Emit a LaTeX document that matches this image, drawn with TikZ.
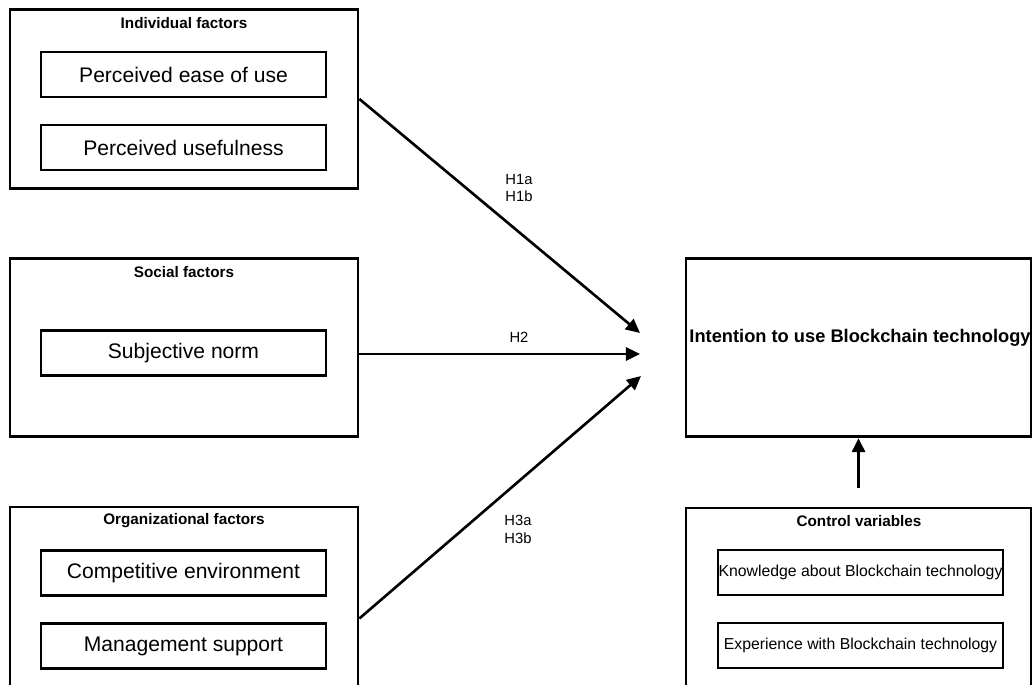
\documentclass[tikz,border=0pt]{standalone}
\usepackage{fontspec}
\setmainfont{Liberation Sans}
\usetikzlibrary{arrows.meta}

\begin{document}
\begin{tikzpicture}[x=0.02cm,y=-0.02cm,
  outerbox/.style={draw,line width=1.6pt,minimum width=6.96cm,minimum height=3.57cm,inner sep=0pt},
  rightbox/.style={outerbox,minimum width=6.9cm},
  innerbox/.style={draw,line width=1.6pt,minimum width=5.7cm,minimum height=0.9cm,inner sep=0pt,font=\fontsize{12}{14}\selectfont},
  smallbox/.style={innerbox,font=\fontsize{9}{11}\selectfont},
  titletext/.style={font=\bfseries\fontsize{8.7}{10}\selectfont,inner sep=0pt},
  hyplabel/.style={font=\fontsize{8.4}{10.2}\selectfont,align=center,inner sep=0pt},
  arr/.style={-{Triangle[length=8pt,width=7.5pt]},line width=1.5pt}]
\clip (0,0) rectangle (1032,685);
% left column
\node[outerbox] (ind) at (184,99) {};
\node[titletext] (indtitle) at (184,23) {Individual factors};
\node[innerbox] (ease) at (183.5,74.5) {Perceived ease of use};
\node[innerbox] (useful) at (183.5,147.5) {Perceived usefulness};

\node[outerbox] (soc) at (184,347.5) {};
\node[titletext] (soctitle) at (184,272) {Social factors};
\node[innerbox] (norm) at (183.5,353) {Subjective norm};

% bottom boxes run off the page
\node[outerbox,minimum height=3.7cm] (org) at (184,599.5) {};
\node[titletext] (orgtitle) at (184,521) {Organizational factors};
\node[innerbox] (comp) at (183.5,573) {Competitive environment};
\node[innerbox] (mgmt) at (183.5,646) {Management support};

% right column
\node[rightbox] (intent) at (858.5,347.5) {};
\node[font=\bfseries\fontsize{10.4}{12}\selectfont,inner sep=0pt] (intenttext) at (860,338) {Intention to use Blockchain technology};

\node[rightbox,minimum height=3.7cm] (ctrl) at (858.5,600.5) {};
\node[titletext] (ctrltitle) at (859,521) {Control variables};
\node[smallbox] (know) at (860.5,572.5) {Knowledge about Blockchain technology};
\node[smallbox] (exp) at (860.5,645.5) {Experience with Blockchain technology};

% hypotheses
\coordinate (h1end) at (640,333);
\coordinate (h2end) at (640,354);
\coordinate (h3end) at (641,376);
\draw[arr] (ind.east) -- (h1end);
\draw[arr] (soc.east |- h2end) -- (h2end);
\draw[arr] ([yshift=-0.38cm]org.east) -- (h3end);
\draw[arr] ([yshift=0.38cm]ctrl.north) -- (intent.south);

\node[hyplabel] (h1) at (519,188) {H1a\\H1b};
\node[hyplabel] (h2) at (519,337) {H2};
\node[hyplabel] (h3) at (518,529) {H3a\\H3b};
\end{tikzpicture}
\end{document}
